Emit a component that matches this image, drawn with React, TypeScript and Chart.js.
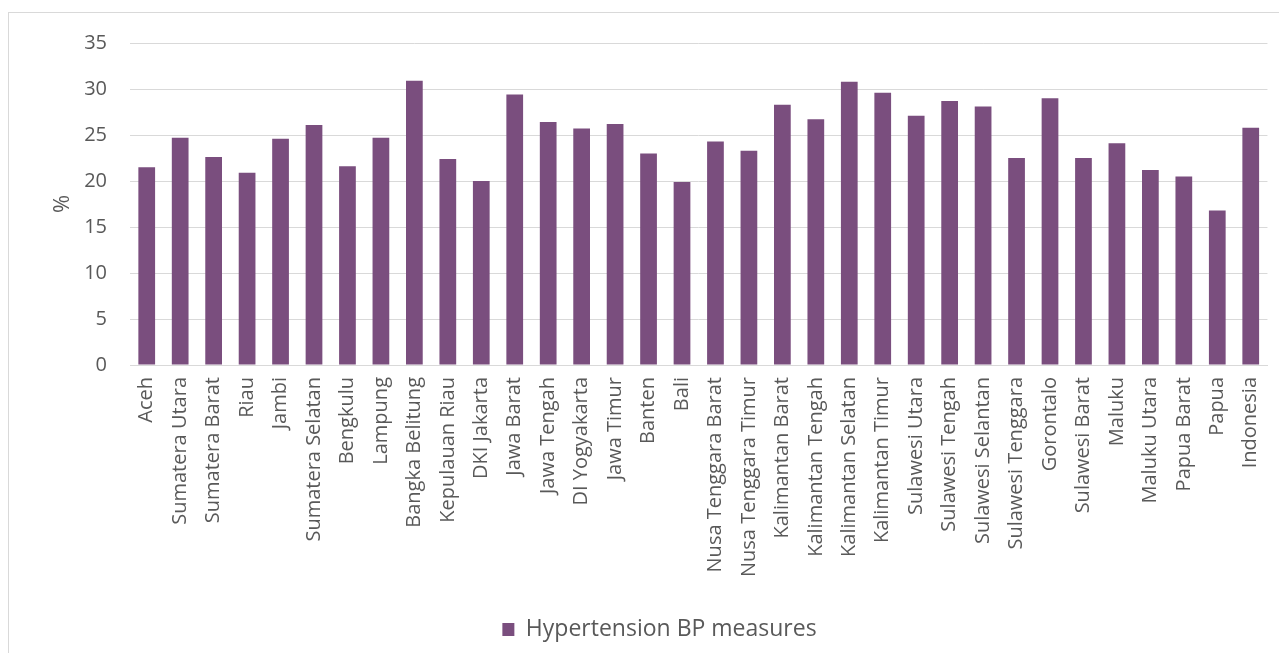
import React, { useEffect, useRef } from 'react';
import { Chart, registerables } from 'chart.js';

Chart.register(...registerables);

const categories: string[] = [
  'Aceh', 'Sumatera Utara', 'Sumatera Barat', 'Riau', 'Jambi', 'Sumatera Selatan',
  'Bengkulu', 'Lampung', 'Bangka Belitung', 'Kepulauan Riau', 'DKI Jakarta', 'Jawa Barat',
  'Jawa Tengah', 'DI Yogyakarta', 'Jawa Timur', 'Banten', 'Bali', 'Nusa Tenggara Barat',
  'Nusa Tenggara Timur', 'Kalimantan Barat', 'Kalimantan Tengah', 'Kalimantan Selatan',
  'Kalimantan Timur', 'Sulawesi Utara', 'Sulawesi Tengah', 'Sulawesi Selantan',
  'Sulawesi Tenggara', 'Gorontalo', 'Sulawesi Barat', 'Maluku', 'Maluku Utara',
  'Papua Barat', 'Papua', 'Indonesia',
];

const hypertensionBP: number[] = [
  21.5, 24.7, 22.6, 20.9, 24.6, 26.1,
  21.6, 24.7, 30.9, 22.4, 20.0, 29.4,
  26.4, 25.7, 26.2, 23.0, 19.9, 24.3,
  23.3, 28.3, 26.7, 30.8,
  29.6, 27.1, 28.7, 28.1,
  22.5, 29.0, 22.5, 24.1, 21.2,
  20.5, 16.8, 25.8,
];

const seriesLabel = 'Hypertension BP measures';
const yAxisTitle = '%';
const yMin = 0;
const yMax = 35;
const yStep = 5;

const FONT_FAMILY = '"Open Sans", "Noto Sans", sans-serif';
const TEXT_COLOR = '#595959';
const GRID_COLOR = '#d9d9d9';
const BAR_COLOR = 'rgb(122, 78, 126)';

export default function App() {
  const canvasRef = useRef<HTMLCanvasElement | null>(null);

  useEffect(() => {
    if (!canvasRef.current) return;
    const chart = new Chart(canvasRef.current, {
      type: 'bar',
      data: {
        labels: categories,
        datasets: [
          {
            label: seriesLabel,
            data: hypertensionBP,
            backgroundColor: BAR_COLOR,
            borderWidth: 0,
            barPercentage: 0.5,
            categoryPercentage: 1.0,
          },
        ],
      },
      options: {
        animation: false,
        responsive: false,
        maintainAspectRatio: false,
        layout: { padding: { top: 34, right: 18, left: 42, bottom: 2 } },
        plugins: {
          tooltip: { enabled: false },
          legend: {
            position: 'bottom',
            labels: {
              color: TEXT_COLOR,
              font: { family: FONT_FAMILY, size: 23 },
              boxWidth: 12,
              boxHeight: 13,
              padding: 10,
            },
          },
        },
        scales: {
          x: {
            grid: { display: false, drawTicks: false },
            border: { display: true, color: GRID_COLOR, width: 1 },
            ticks: {
              autoSkip: false,
              minRotation: 90,
              maxRotation: 90,
              padding: 12,
              color: TEXT_COLOR,
              font: { family: FONT_FAMILY, size: 20 },
            },
            afterFit: (scale: any) => {
              scale.height = 243;
            },
          },
          y: {
            min: yMin,
            max: yMax,
            ticks: {
              stepSize: yStep,
              padding: 23,
              color: TEXT_COLOR,
              font: { family: FONT_FAMILY, size: 20 },
            },
            grid: { color: GRID_COLOR, lineWidth: 1, drawTicks: false },
            border: { display: false },
            title: {
              display: true,
              text: yAxisTitle,
              color: TEXT_COLOR,
              font: { family: FONT_FAMILY, size: 22 },
              padding: { top: 0, bottom: 0 },
            },
            afterFit: (scale: any) => {
              scale.width = 80;
            },
          },
        },
      },
    });
    return () => chart.destroy();
  }, []);

  return (
    <div style={{ position: 'relative', width: 1279, height: 645, overflow: 'hidden' }}>
      <div
        style={{
          position: 'absolute',
          left: 0,
          top: 4,
          width: 1300,
          height: 700,
          border: `1px solid ${GRID_COLOR}`,
          boxSizing: 'border-box',
        }}
      />
      <canvas
        ref={canvasRef}
        width={1279}
        height={645}
        style={{ position: 'absolute', left: 0, top: 0, width: 1279, height: 645 }}
      />
    </div>
  );
}
